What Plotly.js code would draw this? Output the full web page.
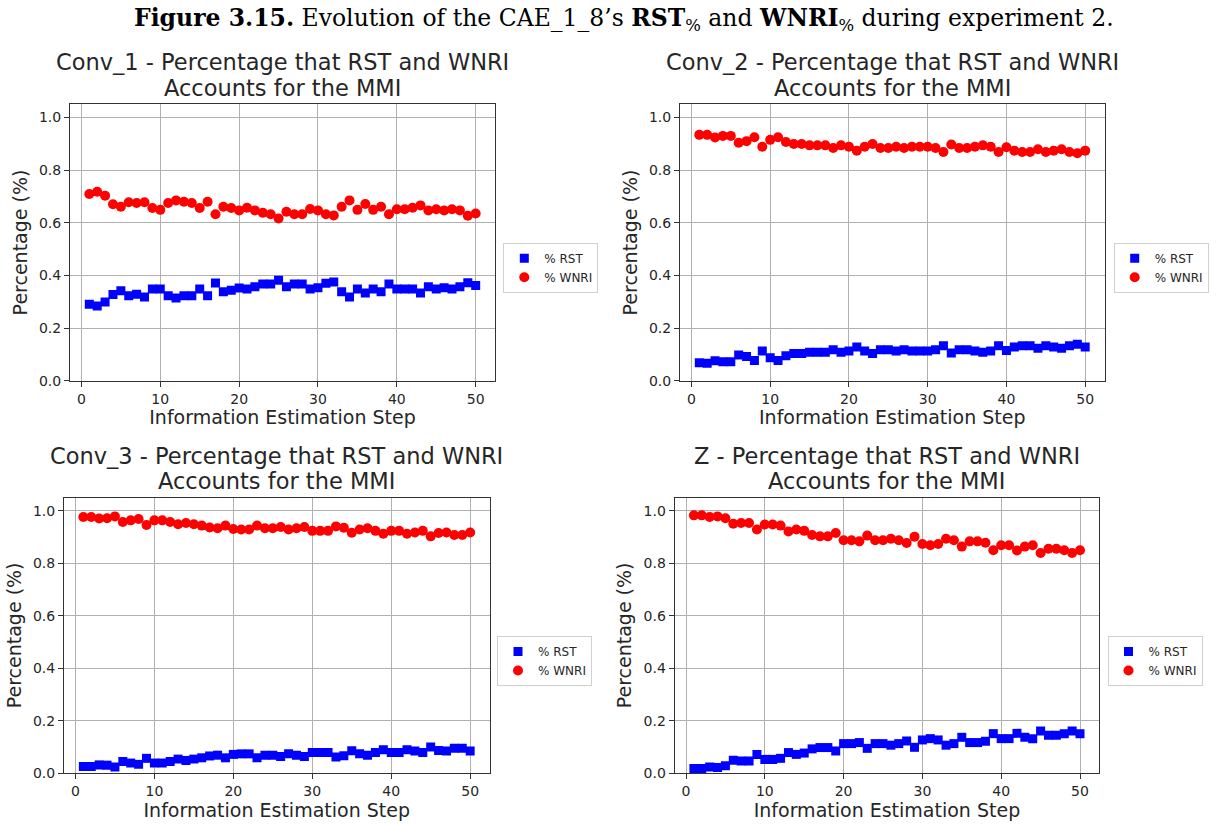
<!DOCTYPE html>
<html>
<head>
<meta charset="utf-8">
<script src="https://cdn.plot.ly/plotly-3.0.1.min.js"></script>
<style>html,body{margin:0;padding:0;background:#fff;}#chart{width:1217px;height:824px;}</style>
</head>
<body>
<div id="chart"></div>
<script>
const steps = Array.from({length: 50}, (_, i) => i + 1);

const conv1Wnri = [0.709,0.718,0.703,0.670,0.661,0.678,0.675,0.678,0.656,0.649,
  0.675,0.685,0.680,0.675,0.656,0.680,0.632,0.661,0.656,0.647,
  0.657,0.647,0.638,0.632,0.616,0.642,0.632,0.632,0.652,0.647,
  0.632,0.628,0.661,0.685,0.649,0.671,0.649,0.661,0.632,0.651,
  0.651,0.657,0.666,0.647,0.651,0.647,0.651,0.647,0.627,0.635];
const conv1Rst = [0.290,0.284,0.299,0.327,0.342,0.323,0.328,0.318,0.348,0.348,
  0.323,0.314,0.323,0.323,0.348,0.323,0.371,0.338,0.344,0.352,
  0.348,0.357,0.367,0.367,0.382,0.357,0.367,0.367,0.348,0.353,
  0.370,0.375,0.338,0.318,0.348,0.333,0.348,0.338,0.367,0.348,
  0.348,0.348,0.333,0.357,0.348,0.353,0.348,0.357,0.372,0.362];

const conv2Wnri = [0.934,0.934,0.924,0.930,0.930,0.904,0.910,0.925,0.889,0.915,
  0.925,0.907,0.899,0.899,0.894,0.894,0.894,0.884,0.894,0.889,
  0.874,0.889,0.899,0.884,0.884,0.889,0.884,0.889,0.889,0.889,
  0.884,0.869,0.897,0.884,0.884,0.889,0.894,0.889,0.869,0.887,
  0.874,0.869,0.869,0.879,0.869,0.874,0.879,0.869,0.864,0.874];
const conv2Rst = [0.068,0.066,0.076,0.072,0.072,0.098,0.092,0.077,0.113,0.087,
  0.077,0.095,0.103,0.103,0.108,0.108,0.108,0.118,0.108,0.113,
  0.128,0.113,0.103,0.118,0.118,0.113,0.118,0.113,0.113,0.113,
  0.118,0.133,0.105,0.118,0.118,0.113,0.108,0.113,0.133,0.115,
  0.128,0.133,0.133,0.123,0.133,0.128,0.123,0.133,0.138,0.128];

const conv3Wnri = [0.976,0.976,0.970,0.971,0.978,0.957,0.963,0.968,0.945,0.963,
  0.963,0.957,0.948,0.953,0.948,0.943,0.936,0.933,0.943,0.930,
  0.928,0.928,0.943,0.933,0.933,0.938,0.928,0.933,0.938,0.923,
  0.923,0.923,0.940,0.935,0.916,0.928,0.933,0.923,0.912,0.923,
  0.923,0.912,0.917,0.923,0.902,0.915,0.917,0.907,0.907,0.917];
const conv3Rst = [0.026,0.026,0.032,0.031,0.024,0.045,0.039,0.034,0.057,0.039,
  0.039,0.045,0.054,0.049,0.054,0.059,0.066,0.069,0.059,0.072,
  0.074,0.074,0.059,0.069,0.069,0.064,0.074,0.069,0.064,0.079,
  0.079,0.079,0.062,0.067,0.086,0.074,0.069,0.079,0.090,0.079,
  0.079,0.090,0.085,0.079,0.100,0.087,0.085,0.095,0.095,0.085];

const zWnri = [0.982,0.982,0.976,0.978,0.971,0.950,0.953,0.953,0.928,0.947,
  0.947,0.943,0.921,0.928,0.923,0.907,0.902,0.902,0.915,0.887,
  0.887,0.883,0.905,0.887,0.887,0.893,0.887,0.877,0.901,0.873,
  0.868,0.873,0.893,0.887,0.863,0.883,0.883,0.878,0.849,0.868,
  0.868,0.848,0.863,0.868,0.839,0.855,0.855,0.849,0.839,0.849];
const zRst = [0.018,0.018,0.024,0.022,0.029,0.050,0.047,0.047,0.072,0.053,
  0.053,0.057,0.079,0.072,0.077,0.093,0.098,0.098,0.085,0.113,
  0.113,0.117,0.095,0.113,0.113,0.107,0.113,0.123,0.099,0.127,
  0.132,0.127,0.107,0.113,0.137,0.117,0.117,0.122,0.151,0.132,
  0.132,0.152,0.137,0.132,0.161,0.145,0.145,0.151,0.161,0.151];

const panelNames = ['Conv_1', 'Conv_2', 'Conv_3', 'Z'];
const rstSeries = [conv1Rst, conv2Rst, conv3Rst, zRst];
const wnriSeries = [conv1Wnri, conv2Wnri, conv3Wnri, zWnri];
const legendLabels = ['% RST', '% WNRI'];
const xTitle = 'Information Estimation Step';
const yTitle = 'Percentage (%)';
const yTicks = [0.0, 0.2, 0.4, 0.6, 0.8, 1.0];
const xTicks = [0, 10, 20, 30, 40, 50];

const W = 1217, H = 824;
// pixel frames [left, right, top, bottom]
const frames = [[70, 495, 104.3, 380.7], [680, 1104.5, 104.3, 380.7],
                [64, 489.5, 497.5, 773.3], [674.6, 1099.3, 497.5, 773.3]];
const legendPos = [[503.3, 242.7], [1113.7, 242.7], [497, 636], [1107.5, 636]];

const FONT = 'DejaVu Sans, sans-serif';
const traces = [];
const layout = {
  width: W, height: H,
  margin: {l: 0, r: 0, t: 0, b: 0},
  paper_bgcolor: '#fff', plot_bgcolor: '#fff',
  showlegend: true,
  font: {family: FONT, color: '#262626', size: 14},
  annotations: [],
};

frames.forEach((f, i) => {
  const n = i + 1;
  const xa = n === 1 ? 'x' : 'x' + n;
  const ya = n === 1 ? 'y' : 'y' + n;
  const lg = n === 1 ? 'legend' : 'legend' + n;
  traces.push({
    x: steps, y: rstSeries[i], xaxis: xa, yaxis: ya, type: 'scatter', mode: 'markers',
    name: legendLabels[0], legend: lg,
    marker: {symbol: 'square', color: '#0000ff', size: 9, line: {width: 0}},
  });
  traces.push({
    x: steps, y: wnriSeries[i], xaxis: xa, yaxis: ya, type: 'scatter', mode: 'markers',
    name: legendLabels[1], legend: lg,
    marker: {symbol: 'circle', color: '#ff0000', size: 10, line: {width: 0}},
  });
  const common = {
    showline: true, mirror: true, linecolor: '#333', linewidth: 1,
    ticks: 'outside', ticklen: 5, tickcolor: '#333', tickwidth: 1,
    showgrid: true, gridcolor: '#b0b0b0', gridwidth: 1, zeroline: false,
    tickfont: {family: FONT, size: 14, color: '#262626'},
  };
  layout['xaxis' + (n === 1 ? '' : n)] = Object.assign({}, common, {
    domain: [f[0] / W, f[1] / W], range: [-1.45, 52.45],
    tickvals: xTicks, ticktext: xTicks.map(String),
    anchor: ya,
    title: {text: xTitle, font: {family: FONT, size: 19, color: '#262626'}, standoff: 3},
  });
  layout['yaxis' + (n === 1 ? '' : n)] = Object.assign({}, common, {
    domain: [1 - f[3] / H, 1 - f[2] / H], range: [0, 1.05],
    tickvals: yTicks, ticktext: yTicks.map(v => v.toFixed(1)),
    anchor: xa,
    title: {text: yTitle, font: {family: FONT, size: 19, color: '#262626'}, standoff: 6},
  });
  layout[lg] = {
    x: legendPos[i][0] / W, y: 1 - legendPos[i][1] / H, xanchor: 'left', yanchor: 'top',
    xref: 'paper', yref: 'paper',
    bgcolor: '#fff', bordercolor: '#d0d0d0', borderwidth: 1,
    font: {family: FONT, size: 12, color: '#262626'},
    tracegroupgap: 0, itemwidth: 30,
  };
  const cx = (f[0] + f[1]) / 2 / W;
  layout.annotations.push({
    xref: 'paper', yref: 'paper', x: cx, y: 1 - (f[2] - 42) / H,
    xanchor: 'center', yanchor: 'middle', showarrow: false,
    text: panelNames[i] + ' - Percentage that RST and WNRI',
    font: {family: FONT, size: 22.5, color: '#262626'},
  });
  layout.annotations.push({
    xref: 'paper', yref: 'paper', x: cx, y: 1 - (f[2] - 16.5) / H,
    xanchor: 'center', yanchor: 'middle', showarrow: false,
    text: 'Accounts for the MMI',
    font: {family: FONT, size: 22.5, color: '#262626'},
  });
});

layout.annotations.push({
  xref: 'paper', yref: 'paper', x: 624 / W, y: 1 - 19 / H, xanchor: 'center', yanchor: 'middle',
  showarrow: false,
  text: '<b>Figure 3.15.</b> Evolution of the CAE_1_8’s <b>RST</b><sub>%</sub> and <b>WNRI</b><sub>%</sub> during experiment 2.',
  font: {family: 'DejaVu Serif, serif', size: 23.5, color: '#000'},
});

Plotly.newPlot('chart', traces, layout, {displayModeBar: false, staticPlot: true});
</script>
</body>
</html>
